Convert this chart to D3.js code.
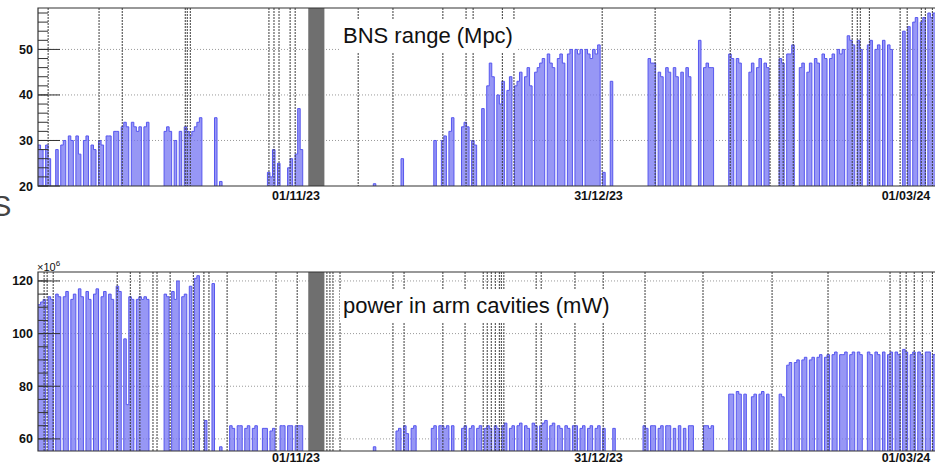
<!DOCTYPE html>
<html>
<head>
<meta charset="utf-8">
<script src="https://cdn.jsdelivr.net/npm/d3@7"></script>
<style>
body { margin: 0; background: #fff; }
svg { display: block; font-family: "Liberation Sans", Arial, sans-serif; }
</style>
</head>
<body>
<div id="graph"></div>
<script>
// samples every 12 hours starting here, 0 = detector not locked
var t0 = Date.UTC(2023, 8, 10, 20);
var stepHours = 12;
var dateTicks = [Date.UTC(2023, 10, 1), Date.UTC(2023, 11, 31), Date.UTC(2024, 2, 1)];

var rangeMpc = [
  29, 28, 0, 29, 26, 0, 0, 28, 0, 29,
  30, 0, 31, 30, 0, 31, 27, 0, 30, 31,
  0, 29, 28, 0, 30, 29, 0, 31, 31, 0,
  32, 32, 0, 33, 34, 33, 0, 34, 33, 32,
  33, 0, 33, 34, 0, 0, 0, 0, 0, 0,
  32, 33, 32, 0, 30, 0, 32, 0, 33, 32,
  31, 32, 33, 34, 35, 0, 0, 0, 0, 0,
  35, 0, 21, 0, 0, 0, 0, 0, 0, 0,
  0, 0, 0, 0, 0, 0, 0, 0, 0, 0,
  0, 23, 22, 28, 0, 25, 0, 0, 0, 24,
  26, 0, 27, 37, 28, 0, 0, 0, 0, 0,
  0, 0, 0, 0, 0, 0, 0, 0, 0, 0,
  0, 0, 0, 0, 0, 0, 0, 0, 0, 0,
  0, 0, 0, 20.5, 0, 0, 0, 0, 0, 0,
  0, 0, 0, 0, 26, 0, 0, 0, 0, 0,
  0, 0, 0, 0, 0, 0, 0, 30, 0, 0,
  30, 31, 0, 32, 35, 0, 0, 0, 33, 34,
  33, 0, 30, 29, 0, 0, 37, 0, 42, 47,
  44, 0, 40, 38, 43, 0, 41, 44, 0, 42,
  43, 45, 0, 44, 46, 42, 0, 45, 46, 47,
  48, 0, 49, 47, 46, 0, 48, 49, 47, 0,
  49, 50, 0, 50, 49, 50, 0, 50, 49, 48,
  50, 49, 51, 0, 23, 0, 0, 43, 0, 0,
  0, 0, 0, 0, 0, 0, 0, 0, 0, 0,
  0, 0, 48, 47, 47, 0, 45, 44, 0, 46,
  45, 0, 46, 44, 0, 45, 0, 46, 44, 0,
  0, 0, 52, 0, 46, 47, 46, 46, 0, 0,
  0, 0, 0, 0, 49, 48, 0, 48, 47, 0,
  0, 0, 45, 47, 0, 46, 48, 0, 47, 46,
  0, 0, 0, 0, 48, 47, 0, 49, 49, 51,
  0, 0, 46, 47, 0, 45, 47, 0, 48, 47,
  0, 49, 48, 0, 48, 49, 0, 50, 49, 50,
  0, 53, 52, 51, 0, 52, 50, 0, 0, 51,
  52, 0, 50, 51, 0, 52, 0, 51, 50, 0,
  0, 0, 0, 54, 0, 55, 0, 56, 57, 0,
  56, 57, 0, 58, 57, 58, 0, 58
];

// power in arm cavities, units of 10^6 mW
var powerArm = [
  111, 112, 113, 0, 114, 113, 0, 115, 114, 0,
  114, 116, 0, 113, 115, 0, 117, 114, 0, 116,
  113, 0, 115, 117, 0, 114, 116, 0, 115, 113,
  0, 118, 116, 0, 98, 73, 114, 113, 0, 113,
  114, 113, 114, 113, 0, 0, 0, 0, 0, 0,
  115, 114, 0, 116, 113, 120, 0, 114, 115, 0,
  118, 0, 121, 122, 0, 0, 67, 0, 0, 119,
  0, 0, 57, 0, 0, 0, 65, 64, 0, 65,
  65, 0, 64, 65, 0, 64, 65, 0, 0, 64,
  64, 0, 63, 64, 0, 0, 65, 65, 0, 65,
  65, 0, 65, 65, 65, 0, 0, 0, 0, 0,
  0, 0, 0, 0, 0, 0, 0, 0, 0, 0,
  0, 0, 0, 0, 0, 0, 0, 0, 0, 0,
  0, 0, 0, 57, 0, 0, 0, 0, 0, 0,
  0, 0, 63, 64, 0, 65, 62, 0, 64, 65,
  0, 0, 0, 0, 0, 0, 64, 65, 0, 65,
  65, 64, 65, 0, 65, 0, 0, 0, 64, 65,
  0, 64, 65, 0, 64, 65, 0, 64, 65, 64,
  0, 65, 64, 0, 65, 66, 0, 64, 65, 0,
  65, 66, 0, 65, 64, 0, 66, 65, 0, 65,
  66, 67, 0, 65, 66, 0, 65, 64, 0, 65,
  64, 0, 65, 65, 0, 64, 65, 0, 64, 65,
  0, 64, 65, 0, 64, 0, 0, 0, 64, 0,
  0, 0, 0, 0, 0, 0, 0, 0, 0, 0,
  65, 64, 0, 65, 65, 0, 64, 65, 0, 65,
  65, 0, 64, 0, 65, 0, 64, 0, 65, 65,
  0, 0, 0, 0, 65, 65, 64, 65, 0, 0,
  0, 0, 0, 0, 77, 77, 0, 78, 77, 0,
  77, 0, 0, 76, 77, 0, 77, 78, 0, 77,
  0, 0, 0, 0, 77, 76, 0, 88, 89, 0,
  89, 90, 0, 90, 91, 0, 90, 91, 0, 91,
  92, 0, 91, 92, 0, 92, 93, 0, 92, 92,
  93, 0, 92, 93, 0, 93, 92, 0, 0, 93,
  92, 0, 93, 92, 0, 93, 0, 92, 93, 0,
  93, 92, 0, 94, 93, 0, 92, 93, 0, 93,
  92, 0, 93, 93, 0, 92, 93, 0
];

// event markers, days after t0
var markersTop = [2.0, 12.1, 16.7, 29.2, 29.6, 30.2, 45.8, 46.8, 47.8, 50.0, 51.0,
  63.5, 70.4, 80.3, 84.9, 86.3, 92.1, 94.4, 111.9, 122.4, 137.3, 145.2, 147.0,
  147.8, 149.8, 161.5, 162.5, 163.1, 164.9, 171.0, 172.4, 175.2, 176.0, 177.4];
var markersBottom = [1.2, 1.8, 3.0, 15.7, 18.3, 20.2, 22.8, 23.6, 26.2, 30.8, 32.9,
  33.9, 37.5, 47.2, 51.4, 57.3, 57.9, 58.5, 59.9, 70.4, 72.6, 80.3, 84.7, 88.3,
  89.1, 89.9, 90.7, 91.5, 91.9, 92.4, 98.8, 99.8, 106.5, 112.1, 120.4, 131.9,
  145.6, 156.7, 169.0, 171.0, 172.2, 173.8, 175.4, 177.4];
var shadedDays = [53.6, 56.8];

var rangeTicks = [20, 30, 40, 50];
var powerTicks = [60, 80, 100, 120];

var W = 935, H = 465, left = 38, right = 950;
var dayMs = 86400000;

var svg = d3.select("#graph").append("svg")
    .attr("width", W)
    .attr("height", H);

var x = d3.scaleUtc()
    .domain([dateTicks[0], dateTicks[2]])
    .range([296, 906]);

function drawPanel(cfg)
{
    var y = d3.scaleLinear().domain(cfg.yDomain).range([cfg.bottom, cfg.top]);
    var g = svg.append("g");

    svg.append("clipPath").attr("id", "clip" + cfg.id)
        .append("rect")
        .attr("x", left).attr("y", cfg.top)
        .attr("width", right - left).attr("height", cfg.bottom - cfg.top);

    // dotted grid
    g.selectAll(".grid").data(cfg.ticks.filter(function(t) { return y(t) < cfg.bottom - 1; }))
        .enter().append("line")
        .attr("x1", left).attr("x2", right)
        .attr("y1", function(d) { return y(d); })
        .attr("y2", function(d) { return y(d); })
        .attr("stroke", "#9a9a9a")
        .attr("stroke-dasharray", "1,2");

    var pts = cfg.values.map(function(v, i) {
        return { t: t0 + i * stepHours * 3600000, v: v };
    });
    pts.push({ t: t0 + cfg.values.length * stepHours * 3600000, v: 0 });

    var plot = g.append("g").attr("clip-path", "url(#clip" + cfg.id + ")");

    plot.append("rect")
        .attr("x", x(t0 + shadedDays[0] * dayMs))
        .attr("width", x(t0 + shadedDays[1] * dayMs) - x(t0 + shadedDays[0] * dayMs))
        .attr("y", cfg.top).attr("height", cfg.bottom - cfg.top)
        .attr("fill", "#6f6f6f");

    plot.append("path")
        .datum(pts)
        .attr("fill", "#7474f2")
        .attr("fill-opacity", 0.75)
        .attr("d", d3.area()
            .curve(d3.curveStepAfter)
            .x(function(d) { return x(d.t); })
            .y0(y(0))
            .y1(function(d) { return y(d.v); }));

    plot.append("path")
        .datum(pts)
        .attr("fill", "none")
        .attr("stroke", "#5656ef")
        .attr("stroke-width", 1)
        .attr("d", d3.line()
            .curve(d3.curveStepAfter)
            .x(function(d) { return x(d.t); })
            .y(function(d) { return y(d.v); }));

    plot.selectAll(".marker").data(cfg.markers)
        .enter().append("line")
        .attr("x1", function(d) { return x(t0 + d * dayMs); })
        .attr("x2", function(d) { return x(t0 + d * dayMs); })
        .attr("y1", cfg.top).attr("y2", cfg.bottom)
        .attr("stroke", "#3c3c3c")
        .attr("stroke-dasharray", "2,1")
        .attr("stroke-width", 1);

    // title box
    g.append("rect")
        .attr("x", cfg.box[0]).attr("y", cfg.box[1])
        .attr("width", cfg.box[2]).attr("height", cfg.box[3])
        .attr("fill", "#fff");
    g.append("text")
        .attr("x", cfg.box[0] + 3).attr("y", cfg.titleY)
        .attr("font-size", "22px")
        .attr("fill", "#111")
        .text(cfg.title);

    // frame
    g.append("path")
        .attr("d", "M" + right + "," + cfg.top + "H" + left + "V" + cfg.bottom + "H" + right)
        .attr("fill", "none")
        .attr("stroke", "#333")
        .attr("stroke-width", 1.2);

    // y ticks
    var minor = d3.range(cfg.minor[0], cfg.yDomain[1], cfg.minor[1]);
    g.selectAll(".minor").data(minor).enter().append("line")
        .attr("x1", left).attr("x2", left + 10)
        .attr("y1", function(d) { return y(d); })
        .attr("y2", function(d) { return y(d); })
        .attr("stroke", "#333");
    g.selectAll(".major").data(cfg.ticks).enter().append("line")
        .attr("x1", left).attr("x2", left + 22)
        .attr("y1", function(d) { return y(d); })
        .attr("y2", function(d) { return y(d); })
        .attr("stroke", "#333");
    g.selectAll(".ylab").data(cfg.ticks).enter().append("text")
        .attr("x", 33)
        .attr("y", function(d) { return y(d); })
        .attr("dy", "0.36em")
        .attr("text-anchor", "end")
        .attr("font-size", "12.5px")
        .attr("font-weight", "bold")
        .attr("fill", "#111")
        .text(function(d) { return d; });

    // date labels
    g.selectAll(".xlab").data(dateTicks).enter().append("text")
        .attr("x", function(d) { return x(d); })
        .attr("y", cfg.bottom + cfg.labelGap)
        .attr("text-anchor", "middle")
        .attr("font-size", "12.5px")
        .attr("font-weight", "bold")
        .attr("fill", "#111")
        .text(function(d) { return d3.utcFormat("%d/%m/%y")(d); });
}

drawPanel({
    id: "top", values: rangeMpc, yDomain: [20, 59.1], top: 8, bottom: 186,
    ticks: rangeTicks, minor: [20, 2], markers: markersTop, labelGap: 14,
    title: "BNS range (Mpc)", box: [340, 20, 176, 32], titleY: 43
});

drawPanel({
    id: "bot", values: powerArm, yDomain: [55.4, 123.4], top: 272, bottom: 451,
    ticks: powerTicks, minor: [60, 5], markers: markersBottom, labelGap: 11,
    title: "power in arm cavities (mW)", box: [340, 290, 276, 33], titleY: 313
});

var exp = svg.append("text")
    .attr("x", 37).attr("y", 271)
    .attr("font-size", "11px")
    .attr("fill", "#111");
exp.append("tspan").text("\u00d710");
exp.append("tspan").attr("dy", -5).attr("font-size", "8px").text("6");

// fragment of a neighbouring label, cut off by the crop
svg.append("text")
    .attr("x", -8).attr("y", 216)
    .attr("font-size", "29px")
    .attr("fill", "#444")
    .text("S");
</script>
</body>
</html>
